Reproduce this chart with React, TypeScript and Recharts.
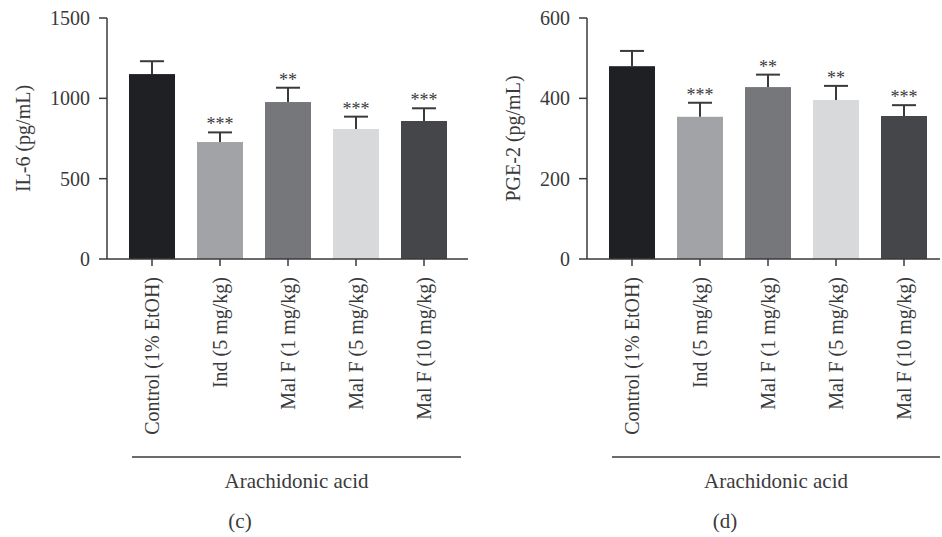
import React from "react";
import { Bar, BarChart, Cell, XAxis, YAxis } from "recharts";

// Arachidonic acid-induced model: IL-6 (c) and PGE-2 (d)
const groups = [
  "Control (1% EtOH)",
  "Ind (5 mg/kg)",
  "Mal F (1 mg/kg)",
  "Mal F (5 mg/kg)",
  "Mal F (10 mg/kg)",
];
const barColors = ["#1f2023", "#a2a3a7", "#76777b", "#d8d9db", "#45464a"];

const il6Means = [1151, 728, 977, 809, 859];
const il6Errors = [80, 60, 89, 77, 79];
const il6Stars = ["", "***", "**", "***", "***"];
const il6Ticks = [0, 500, 1000, 1500];

const pge2Means = [480, 354, 428, 396, 356];
const pge2Errors = [38, 35, 31, 35, 27];
const pge2Stars = ["", "***", "**", "**", "***"];
const pge2Ticks = [0, 200, 400, 600];

const INK = "#3a3a3c";
const FONT = "'Liberation Serif', 'DejaVu Serif', serif";

type Row = { name: string; value: number; err: number; stars: string };

const buildRows = (means: number[], errs: number[], stars: string[]): Row[] =>
  groups.map((name, i) => ({ name, value: means[i], err: errs[i], stars: stars[i] }));

function BarWithError(props: any) {
  const { x, y, width, height, fill, payload } = props;
  const perUnit = payload.value > 0 ? height / payload.value : 0;
  const top = y - payload.err * perUnit;
  const cx = x + width / 2;
  return (
    <g>
      <rect x={x} y={y} width={width} height={height} fill={fill} />
      <line x1={cx} x2={cx} y1={y} y2={top} stroke={INK} strokeWidth={2} />
      <line x1={cx - 12} x2={cx + 12} y1={top} y2={top} stroke={INK} strokeWidth={2} />
      {payload.stars ? (
        <text x={cx} y={top - 2} textAnchor="middle" fontSize={18} fontFamily={FONT} fill={INK}>
          {payload.stars}
        </text>
      ) : null}
    </g>
  );
}

function GroupTick(props: any) {
  const { x, y, payload } = props;
  return (
    <text
      transform={`translate(${x},${y}) rotate(-90)`}
      textAnchor="end"
      dominantBaseline="central"
      fontSize={20}
      fontFamily={FONT}
      fill={INK}
    >
      {payload.value}
    </text>
  );
}

function YTitle(props: any) {
  const { viewBox, text, cx } = props;
  const vb = viewBox || { x: 0, y: 18, width: 0, height: 241 };
  const cy = vb.y + vb.height / 2;
  return (
    <text
      transform={`translate(${cx},${cy}) rotate(-90)`}
      textAnchor="middle"
      dominantBaseline="central"
      fontSize={20}
      fontFamily={FONT}
      fill={INK}
    >
      {text}
    </text>
  );
}

function GroupFooter(props: any) {
  const { viewBox, tag, tagX, left, right } = props;
  const vb = viewBox || { x: 0, y: 259, width: 360, height: 278 };
  const x1 = vb.x + left;
  const x2 = vb.x + vb.width - right;
  return (
    <g fontFamily={FONT} fill={INK}>
      <line x1={x1} x2={x2} y1={457} y2={457} stroke={INK} strokeWidth={1.5} />
      <text x={(x1 + x2) / 2} y={488} textAnchor="middle" fontSize={21}>
        Arachidonic acid
      </text>
      <text x={tagX} y={528} textAnchor="middle" fontSize={21}>
        {tag}
      </text>
    </g>
  );
}

type PanelProps = {
  rows: Row[];
  ticks: number[];
  yTitle: string;
  yTitleX: number;
  tag: string;
  tagX: number;
  width: number;
  axisWidth: number;
  padRight: number;
  footRight: number;
};

function Panel({ rows, ticks, yTitle, yTitleX, tag, tagX, width, axisWidth, padRight, footRight }: PanelProps) {
  return (
    <BarChart width={width} height={537} data={rows} margin={{ top: 18, right: 2, bottom: 0, left: 0 }}>
      <XAxis
        dataKey="name"
        interval={0}
        height={278}
        padding={{ left: 11, right: padRight }}
        tickSize={7}
        tickMargin={11}
        tick={<GroupTick />}
        axisLine={{ stroke: INK, strokeWidth: 1.5 }}
        tickLine={{ stroke: INK, strokeWidth: 1.5 }}
        label={<GroupFooter tag={tag} tagX={tagX} left={25} right={footRight} />}
      />
      <YAxis
        type="number"
        width={axisWidth}
        domain={[ticks[0], ticks[ticks.length - 1]]}
        ticks={ticks}
        interval={0}
        tickSize={8}
        tickMargin={9}
        tick={{ fontSize: 20, fontFamily: FONT, fill: INK }}
        axisLine={{ stroke: INK, strokeWidth: 1.5 }}
        tickLine={{ stroke: INK, strokeWidth: 1.5 }}
        label={<YTitle text={yTitle} cx={yTitleX} />}
      />
      <Bar dataKey="value" barSize={46} isAnimationActive={false} shape={<BarWithError />}>
        {rows.map((r, i) => (
          <Cell key={r.name} fill={barColors[i]} />
        ))}
      </Bar>
    </BarChart>
  );
}

export default function App() {
  const il6 = buildRows(il6Means, il6Errors, il6Stars);
  const pge2 = buildRows(pge2Means, pge2Errors, pge2Stars);
  return (
    <div
      style={{
        position: "absolute",
        left: 0,
        top: 0,
        width: 942,
        height: 537,
        background: "#fff",
        fontFamily: FONT,
      }}
    >
      <div style={{ position: "absolute", left: 0, top: 0 }}>
        <Panel
          rows={il6}
          ticks={il6Ticks}
          yTitle="IL-6 (pg/mL)"
          yTitleX={23}
          tag="(c)"
          tagX={240}
          width={470}
          axisWidth={107}
          padRight={10}
          footRight={7}
        />
      </div>
      <div style={{ position: "absolute", left: 470, top: 0 }}>
        <Panel
          rows={pge2}
          ticks={pge2Ticks}
          yTitle="PGE-2 (pg/mL)"
          yTitleX={43}
          tag="(d)"
          tagX={255}
          width={472}
          axisWidth={117}
          padRight={2}
          footRight={0}
        />
      </div>
    </div>
  );
}
